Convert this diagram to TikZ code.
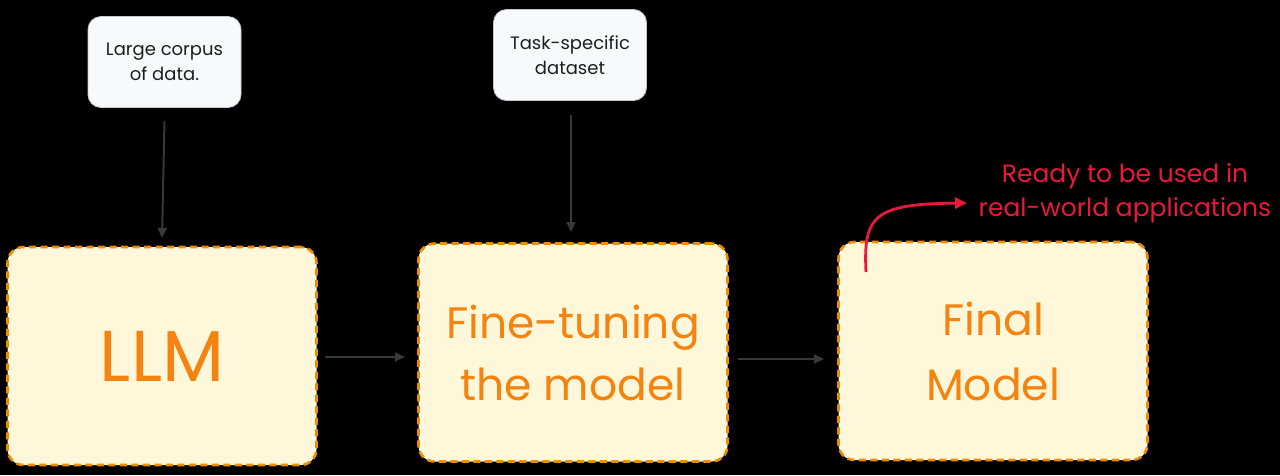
\documentclass[tikz,border=0pt]{standalone}
\usepackage{fontspec}
\setmainfont{Poppins}
\usetikzlibrary{arrows.meta}
\definecolor{bg}{HTML}{000000}
\definecolor{cream}{HTML}{FFF7D9}
\definecolor{orng}{HTML}{F08C00}
\definecolor{txtorng}{HTML}{F5830F}
\definecolor{redc}{HTML}{E8193C}
\definecolor{paper}{HTML}{F8F9FA}
\definecolor{arrowc}{HTML}{383838}
\definecolor{ink}{HTML}{1E1E1E}
\tikzset{
  stagebox/.style={draw=orng, fill=cream, line width=2.6pt, dash pattern=on 7pt off 4.5pt,
    rounded corners=16pt, minimum width=309pt, minimum height=218pt, inner sep=0pt,
    text=txtorng, align=center},
  inputbox/.style={draw=paper!80!black, fill=paper, line width=0.8pt, rounded corners=13pt,
    minimum width=153pt, minimum height=91pt, inner sep=0pt, text=ink, align=center,
    font=\fontsize{18}{25}\selectfont},
  flow/.style={draw=arrowc, line width=2pt, -{Triangle[length=10pt,width=9pt]}},
  redflow/.style={draw=redc, line width=2.8pt, -{Triangle[length=12pt,width=11pt]}},
}
\begin{document}
\begin{tikzpicture}[x=1pt,y=-1pt]
\useasboundingbox[fill=bg] (0,0) rectangle (1280,475);
% input boxes
\node[inputbox] (corpus) at (164.5,62) {Large corpus\\of data.};
\node[inputbox] (task) at (570,55) {Task-specific\\dataset};
% stage boxes
\node[stagebox, font=\fontsize{72}{78}\selectfont] (llm) at (162,356) {LLM};
\node[stagebox, font=\fontsize{44}{62}\selectfont, text depth=-6pt] (ft) at (573,352.5) {Fine-tuning\\the model};
\node[stagebox, font=\fontsize{44}{65}\selectfont, text depth=-6pt] (final) at (993,351) {Final\\Model};
% connectors
\coordinate (a1s) at (162,121);
\coordinate (a1e) at (162,238);
\draw[flow] (corpus.south |- a1s) -- (llm.north |- a1e);
\coordinate (a2s) at (571,115);
\coordinate (a2e) at (571,232);
\draw[flow] (a2s) -- (a2e);
\coordinate (a3s) at (325,357);
\coordinate (a3e) at (405,357);
\draw[flow] (a3s) -- (a3e);
\coordinate (a4s) at (738,359);
\coordinate (a4e) at (824,359);
\draw[flow] (a4s) -- (a4e);
% red note
\node[text=redc, align=center, font=\fontsize{25}{34}\selectfont] (note) at (1125,193) {Ready to be used in\\real-world applications};
\coordinate (rs) at (866,272);
\coordinate (re) at (967,203);
\draw[redflow] (rs) .. controls (863,215) and (875,204) .. (re);
\end{tikzpicture}
\end{document}
